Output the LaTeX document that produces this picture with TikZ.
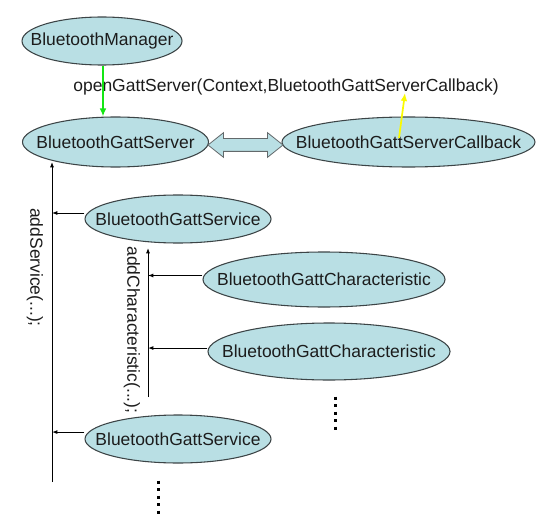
\documentclass[tikz,border=0pt]{standalone}
\usepackage{fontspec}
\setmainfont{Liberation Sans}
\usetikzlibrary{shapes.geometric,shapes.arrows,arrows.meta}
\definecolor{boxfill}{RGB}{185,223,228}
\definecolor{boxline}{RGB}{60,68,70}
\definecolor{txt}{RGB}{28,28,28}
\definecolor{grn}{RGB}{20,230,20}
\definecolor{ylw}{RGB}{250,250,0}
\tikzset{
  ell/.style n args={3}{ellipse, draw=boxline, line width=0.8pt, fill=boxfill,
    inner sep=0pt, minimum width=#1*0.75pt, minimum height=#2*0.75pt,
    label={[lbl]center:#3}},
  lbl/.style={inner sep=0pt, text=txt, font=\fontsize{13.1}{15}\selectfont},
  arr/.style={line width=0.75pt, black, -{Latex[length=4pt,width=3pt]}},
  grnarr/.style={line width=1.3pt, grn, -{Latex[length=6pt,width=5pt]}},
  ylwarr/.style={line width=1.3pt, ylw, -{Latex[length=6pt,width=5pt]}},
  dbl/.style={double arrow, draw=boxline!80!white, line width=0.6pt, fill=boxfill,
    minimum height=75*0.75pt, inner xsep=0pt, inner ysep=6*0.75pt,
    double arrow head extend=6*0.75pt, double arrow tip angle=77},
  dotcol/.style={line width=3*0.75pt, black, dash pattern=on 3*0.75pt off 4.5*0.75pt},
}
\begin{document}
\begin{tikzpicture}[x=0.75pt,y=-0.75pt]
\useasboundingbox (0,0) rectangle (552,527);
% nodes
\node[ell={160}{48}{BluetoothManager}] (mgr) at (102,41) {};
\node[lbl] (open) at (286,87) {openGattServer(Context,BluetoothGattServerCallback)};
\node[ell={186}{50}{BluetoothGattServer}] (srv) at (115.5,142) {};
\node[ell={253}{50}{BluetoothGattServerCallback}] (cb) at (408.5,142) {};
\node[dbl] (dar) at (245.5,145) {};
\node[ell={186}{48}{BluetoothGattService}] (svc1) at (178,219) {};
\node[ell={242}{55}{BluetoothGattCharacteristic}] (ch1) at (324,279.5) {};
\node[ell={242}{57}{BluetoothGattCharacteristic}] (ch2) at (329,351.5) {};
\node[ell={186}{48}{BluetoothGattService}] (svc2) at (178,439) {};
\node[lbl, rotate=-90] (addsvc) at (35,267.5) {addService(...);};
\node[lbl, rotate=-90] (addch) at (132,330) {addCharacteristic(...);};
% coordinates
\coordinate (sltop) at (52,162);
\coordinate (slbot) at (52,482);
\coordinate (cltop) at (148,248);
\coordinate (clbot) at (148,397);
\coordinate (ys) at (399,138);
\coordinate (ye) at (405,93);
\coordinate (p1) at ([yshift=4.5pt]svc1.west);
\coordinate (p2) at ([yshift=3pt]ch1.west);
\coordinate (p3) at ([yshift=2.6pt]ch2.west);
\coordinate (p4) at ([yshift=5.2pt]svc2.west);
\coordinate (d1a) at (335,396.5);
\coordinate (d1b) at (335,430);
\coordinate (d2a) at (158,480.5);
\coordinate (d2b) at (158,514);
% connectors
\draw[grnarr] (mgr.south -| 103,0) -- (srv.north -| 103,0);
\draw[ylwarr] (ys) -- (ye);
\draw[arr] (slbot) -- (sltop);
\draw[arr] (clbot) -- (cltop);
\draw[arr] (p1) -- (p1 -| sltop);
\draw[arr] (p4) -- (p4 -| sltop);
\draw[arr] (p2) -- (p2 -| cltop);
\draw[arr] (p3) -- (p3 -| cltop);
% dots
\draw[dotcol] (d1a) -- (d1b);
\draw[dotcol] (d2a) -- (d2b);
\end{tikzpicture}
\end{document}
